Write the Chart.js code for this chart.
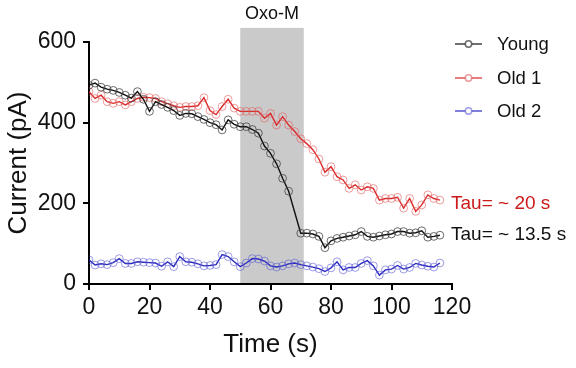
<!DOCTYPE html>
<html>
<head>
<meta charset="utf-8">
<script src="https://cdn.jsdelivr.net/npm/chart.js@4/dist/chart.umd.min.js"></script>
<style>
html,body{margin:0;padding:0;background:#fff;}
#wrap{width:576px;height:368px;position:relative;}
</style>
</head>
<body>
<div id="wrap"><canvas id="c" width="576" height="368"></canvas></div>
<script>
// ---- data ----
const times = [0,2,4,6,8,10,12,14,16,18,20,22,24,26,28,30,32,34,36,38,40,42,44,46,48,50,52,54,56,58,60,62,64,66,68,70,72,74,76,78,80,82,84,86,88,90,92,94,96,98,100,102,104,106,108,110,112,114,116];
const young = [493,498,488,483,480,475,468,461,477,458,428,452,445,438,430,418,423,422,415,408,400,395,382,407,396,390,390,383,374,342,324,298,262,230,null,126,126,124,118,90,107,113,116,119,122,130,118,116,119,122,124,130,130,126,127,132,116,118,121];
const old1 = [477,460,468,452,448,452,444,452,460,463,462,460,452,447,442,438,440,440,442,462,430,420,440,458,436,428,428,428,428,411,423,394,415,394,378,360,348,333,310,277,291,266,258,237,246,233,241,237,208,212,212,215,188,212,180,196,221,212,208];
const old2 = [60,47,50,48,53,63,51,51,55,54,53,52,44,55,43,68,55,54,50,45,46,48,73,68,55,43,52,63,62,57,45,42,45,50,52,48,45,42,38,31,40,55,35,41,41,51,58,45,22,35,37,46,37,41,51,47,44,42,52];
const seriesLabels = ["Young","Old 1","Old 2"];
const xTicks = [0,20,40,60,80,100,120];
const yTicks = [0,200,400,600];
const shadeRange = [50,71];
const shadeLabel = "Oxo-M";
const tauLabels = ["Tau= ~ 20 s","Tau= ~ 13.5 s"];

const FONT = "'Liberation Sans', Arial, Helvetica, sans-serif";
const toXY = arr => times.map((t,i)=>({x:t,y:arr[i]}));

const lineColors = ["#111111","#d92b2b","#2b2bc0"];
const pointColors = ["rgba(60,60,60,0.75)","rgba(225,90,90,0.6)","rgba(90,90,210,0.6)"];

const shadePlugin = {
  id:'shade',
  beforeDraw(chart){
    const {ctx, scales:{x,y}} = chart;
    const x0 = x.getPixelForValue(shadeRange[0]);
    const x1 = x.getPixelForValue(shadeRange[1]);
    const top = y.getPixelForValue(635);
    const bot = y.getPixelForValue(0) - 1;
    ctx.save();
    ctx.fillStyle = '#cacaca';
    ctx.fillRect(x0, top, x1-x0, bot-top);
    ctx.fillStyle = '#111';
    ctx.font = "18px " + FONT;
    ctx.textAlign = 'center';
    ctx.textBaseline = 'middle';
    ctx.fillText(shadeLabel, (x0+x1)/2, 14);
    ctx.restore();
  },
  afterDraw(chart){
    const {ctx} = chart;
    ctx.save();
    // legend
    const ys = [44,78,111];
    chart.data.datasets.forEach((ds,i)=>{
      const yy = ys[i];
      ctx.strokeStyle = ds.borderColor;
      ctx.lineWidth = 1.5;
      ctx.globalAlpha = 0.8;
      ctx.beginPath(); ctx.moveTo(455,yy); ctx.lineTo(482,yy); ctx.stroke();
      ctx.globalAlpha = 1;
      ctx.fillStyle = '#fff';
      ctx.strokeStyle = ds.pointBorderColor;
      ctx.beginPath(); ctx.arc(468.5,yy,3.2,0,Math.PI*2); ctx.fill(); ctx.stroke();
      ctx.fillStyle = '#111';
      ctx.font = "18.5px " + FONT;
      ctx.textAlign = 'left';
      ctx.textBaseline = 'middle';
      ctx.fillText(ds.label, 497, yy+1);
    });
    // tau labels
    ctx.font = "19px " + FONT;
    ctx.textAlign = 'left';
    ctx.textBaseline = 'middle';
    ctx.fillStyle = '#cc1a1a';
    ctx.fillText(tauLabels[0], 451, 204);
    ctx.fillStyle = '#111';
    ctx.fillText(tauLabels[1], 451, 235);
    ctx.restore();
  }
};

const mk = (label, arr, i) => ({
  label, data: toXY(arr),
  borderColor: lineColors[i], borderWidth: 1.4,
  pointRadius: 3.9, pointBorderWidth: 1, pointBackgroundColor: 'rgba(0,0,0,0)',
  pointBorderColor: pointColors[i], tension: 0, spanGaps: true
});

new Chart(document.getElementById('c'), {
  type: 'line',
  data: { datasets: [mk(seriesLabels[0],young,0), mk(seriesLabels[1],old1,1), mk(seriesLabels[2],old2,2)] },
  options: {
    responsive:false, animation:false, devicePixelRatio:1,
    layout:{padding:{left:0,right:124,top:42,bottom:0}},
    plugins:{legend:{display:false}, tooltip:{enabled:false}},
    scales:{
      x:{
        type:'linear', min:0, max:120,
        afterBuildTicks(s){ s.ticks = xTicks.map(v=>({value:v})); },
        afterFit(s){ s.height = 84; },
        grid:{display:true, drawOnChartArea:false, drawTicks:true, tickLength:6, color:'#000', lineWidth:2},
        border:{display:true, color:'#000', width:2},
        ticks:{color:'#111', font:{family:FONT, size:23}, padding:4, maxRotation:0},
        title:{display:true, text:'Time (s)', color:'#111', font:{family:FONT, size:26}, padding:{top:0,bottom:8}}
      },
      y:{
        min:0, max:600,
        afterBuildTicks(s){ s.ticks = yTicks.map(v=>({value:v})); },
        afterFit(s){ s.width = 89; },
        grid:{display:true, drawOnChartArea:false, drawTicks:true, tickLength:6, color:'#000', lineWidth:2},
        border:{display:true, color:'#000', width:2},
        ticks:{color:'#111', font:{family:FONT, size:23}, padding:7},
        title:{display:true, text:'Current (pA)', color:'#111', font:{family:FONT, size:26}, padding:{top:3,bottom:0}}
      }
    }
  },
  plugins:[shadePlugin]
});
</script>
</body>
</html>
